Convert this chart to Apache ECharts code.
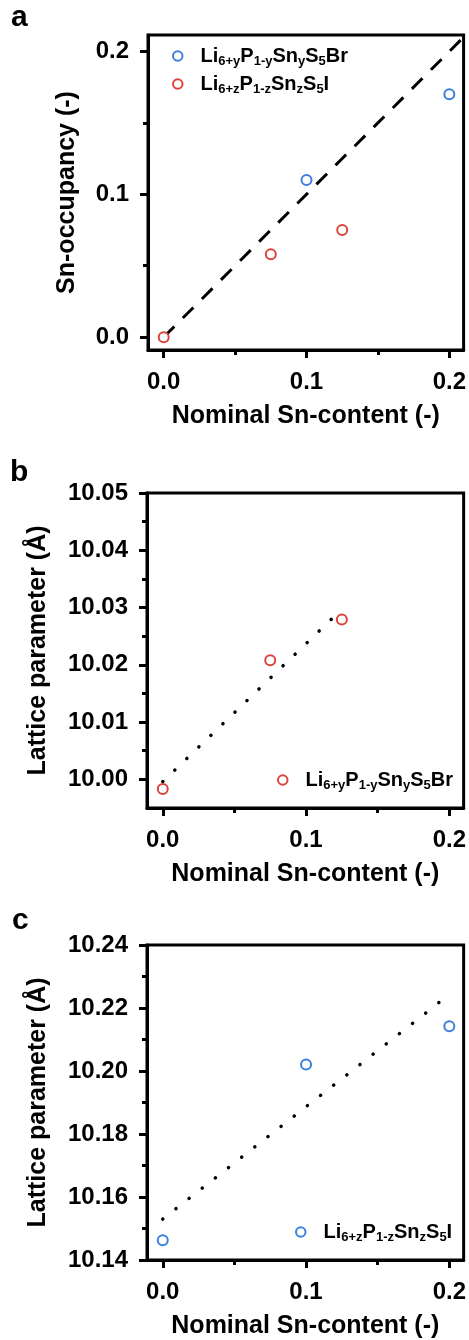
<!DOCTYPE html>
<html>
<head>
<meta charset="utf-8">
<script src="https://cdn.jsdelivr.net/npm/echarts@6/dist/echarts.min.js"></script>
<style>
html,body{margin:0;padding:0;background:#fff;}
#chart{width:469px;height:1340px;}
</style>
</head>
<body>
<div id="chart"></div>
<script>
// ---- data ----
const panelLetters = ['a', 'b', 'c'];
const xTitle = 'Nominal Sn-content (-)';
const yTitles = ['Sn-occupancy (-)', 'Lattice parameter (Å)', 'Lattice parameter (Å)'];

const xMajorTicks = [0, 0.1, 0.2];
const xMinorTicks = [0.05, 0.15];

const aYMajor = [0, 0.1, 0.2];
const aYMinor = [0.05, 0.15];
const bYMajor = [10.00, 10.01, 10.02, 10.03, 10.04, 10.05];
const bYMinor = [10.005, 10.015, 10.025, 10.035, 10.045];
const cYMajor = [10.14, 10.16, 10.18, 10.20, 10.22, 10.24];
const cYMinor = [10.15, 10.17, 10.19, 10.21, 10.23];

// panel a: Sn occupancy
const aBr = [[0.1, 0.110], [0.2, 0.170]];
const aI = [[0, 0.0], [0.075, 0.058], [0.125, 0.075]];
const aIdeal = [[0, 0], [0.21, 0.21]];

// panel b: lattice parameter Br
const bBr = [[0, 9.9983], [0.075, 10.0208], [0.125, 10.0279]];
const bFit = [[0, 9.9996], [0.122, 10.0290]];

// panel c: lattice parameter I
const cI = [[0, 10.1463], [0.1, 10.2021], [0.2, 10.2142]];
const cFit = [[0, 10.1530], [0.195, 10.2225]];

const BLUE = '#3c7fdc';
const RED = '#d9453c';
const FONT = '"Liberation Sans", Arial, sans-serif';

const legendRich = {
  'a_Br': '{m|Li}{s|6+y}{m|P}{s|1-y}{m|Sn}{s|y}{m|S}{s|5}{m|Br}',
  'a_I': '{m|Li}{s|6+z}{m|P}{s|1-z}{m|Sn}{s|z}{m|S}{s|5}{m|I}',
  'b_Br': '{m|Li}{s|6+y}{m|P}{s|1-y}{m|Sn}{s|y}{m|S}{s|5}{m|Br}',
  'c_I': '{m|Li}{s|6+z}{m|P}{s|1-z}{m|Sn}{s|z}{m|S}{s|5}{m|I}'
};

// ---- layout ----
const grids = [
  { left: 148, top: 35, width: 317, height: 315 },
  { left: 147, top: 493, width: 318, height: 315 },
  { left: 147, top: 945, width: 318, height: 315 }
];
const yRanges = [[-0.009, 0.2115], [9.995, 10.05], [10.14, 10.24]];
const yMajors = [aYMajor, bYMajor, cYMajor];
const yMinors = [aYMinor, bYMinor, cYMinor];
const yDigits = [1, 2, 2];
const yNameGaps = [68, 96, 96];

const xAxes = [], yAxes = [];
grids.forEach((g, i) => {
  xAxes.push({
    gridIndex: i, type: 'value', min: -0.011, max: 0.21,
    name: xTitle, nameLocation: 'middle', nameGap: 54,
    nameTextStyle: { fontSize: 25, fontWeight: 'bold', color: '#000', fontFamily: FONT },
    axisLine: { show: true, onZero: false, lineStyle: { color: '#000', width: 3 } },
    axisTick: { show: true, length: 8, lineStyle: { color: '#000', width: 3 }, customValues: xMajorTicks },
    axisLabel: { show: true, margin: 20, fontSize: 24, fontWeight: 'bold', color: '#000', fontFamily: FONT,
      customValues: xMajorTicks, formatter: v => Number(v).toFixed(1) },
    splitLine: { show: false }
  });
  xAxes.push({
    gridIndex: i, type: 'value', min: -0.011, max: 0.21, position: 'bottom',
    axisLine: { show: false, onZero: false },
    axisTick: { show: true, length: 5, lineStyle: { color: '#000', width: 3 }, customValues: xMinorTicks },
    axisLabel: { show: false },
    splitLine: { show: false }
  });
  yAxes.push({
    gridIndex: i, type: 'value', min: yRanges[i][0], max: yRanges[i][1],
    name: yTitles[i], nameLocation: 'middle', nameGap: yNameGaps[i],
    nameTextStyle: { fontSize: 25, fontWeight: 'bold', color: '#000', fontFamily: FONT },
    axisLine: { show: true, onZero: false, lineStyle: { color: '#000', width: 3 } },
    axisTick: { show: true, length: 8, lineStyle: { color: '#000', width: 3 }, customValues: yMajors[i] },
    axisLabel: { show: true, margin: 19, fontSize: 24, fontWeight: 'bold', color: '#000', fontFamily: FONT,
      customValues: yMajors[i], formatter: v => Number(v).toFixed(yDigits[i]) },
    splitLine: { show: false }
  });
  yAxes.push({
    gridIndex: i, type: 'value', min: yRanges[i][0], max: yRanges[i][1], position: 'left',
    axisLine: { show: false, onZero: false },
    axisTick: { show: true, length: 5, lineStyle: { color: '#000', width: 3 }, customValues: yMinors[i] },
    axisLabel: { show: false },
    splitLine: { show: false }
  });
});

function scatter(name, data, color, gi) {
  return {
    name: name, type: 'scatter', xAxisIndex: gi * 2, yAxisIndex: gi * 2, data: data,
    symbol: 'circle', symbolSize: 10, z: 5,
    itemStyle: { color: '#fff', borderColor: color, borderWidth: 2, opacity: 1 }
  };
}
function fitLine(name, data, gi, dash, width, cap) {
  return {
    name: name, type: 'line', xAxisIndex: gi * 2, yAxisIndex: gi * 2, data: data,
    showSymbol: false, symbol: 'none', silent: true, z: 3,
    lineStyle: { color: '#000', width: width, type: dash, cap: cap }
  };
}

const legendText = {
  color: '#000', fontFamily: FONT, padding: [0, 0, 0, 13],
  rich: {
    m: { fontSize: 20, fontWeight: 'bold', fontFamily: FONT, color: '#000', lineHeight: 24, verticalAlign: 'middle' },
    s: { fontSize: 13, fontWeight: 'bold', fontFamily: FONT, color: '#000', lineHeight: 9, verticalAlign: 'bottom' }
  }
};
function legend(data, left, top, gap) {
  return {
    data: data, left: left, top: top, orient: 'vertical', itemGap: gap,
    itemWidth: 9.5, itemHeight: 9.5, padding: 0, selectedMode: false,
    formatter: n => legendRich[n], textStyle: legendText
  };
}

const option = {
  animation: false,
  backgroundColor: '#fff',
  title: [
    { text: panelLetters[0], left: 11, top: 3, padding: 0, textStyle: { fontSize: 30, fontWeight: 'bold', color: '#000', fontFamily: FONT } },
    { text: panelLetters[1], left: 10, top: 458, padding: 0, textStyle: { fontSize: 30, fontWeight: 'bold', color: '#000', fontFamily: FONT } },
    { text: panelLetters[2], left: 12, top: 906, padding: 0, textStyle: { fontSize: 30, fontWeight: 'bold', color: '#000', fontFamily: FONT } }
  ],
  grid: grids.map(g => Object.assign({ show: true, borderColor: '#000', borderWidth: 3, backgroundColor: 'transparent', containLabel: false }, g)),
  xAxis: xAxes,
  yAxis: yAxes,
  legend: [
    legend(['a_Br', 'a_I'], 172, 46, 6),
    legend(['b_Br'], 277, 770, 6),
    legend(['c_I'], 295, 1222, 6)
  ],
  series: [
    fitLine('a_ideal', aIdeal, 0, [15, 12], 3, 'butt'),
    scatter('a_Br', aBr, BLUE, 0),
    scatter('a_I', aI, RED, 0),
    fitLine('b_fit', bFit, 1, [0.1, 16.6], 3.5, 'round'),
    scatter('b_Br', bBr, RED, 1),
    fitLine('c_fit', cFit, 2, [0.1, 16.6], 3.5, 'round'),
    scatter('c_I', cI, BLUE, 2)
  ]
};

const chart = echarts.init(document.getElementById('chart'), null, { renderer: 'canvas' });
chart.setOption(option);
</script>
</body>
</html>
